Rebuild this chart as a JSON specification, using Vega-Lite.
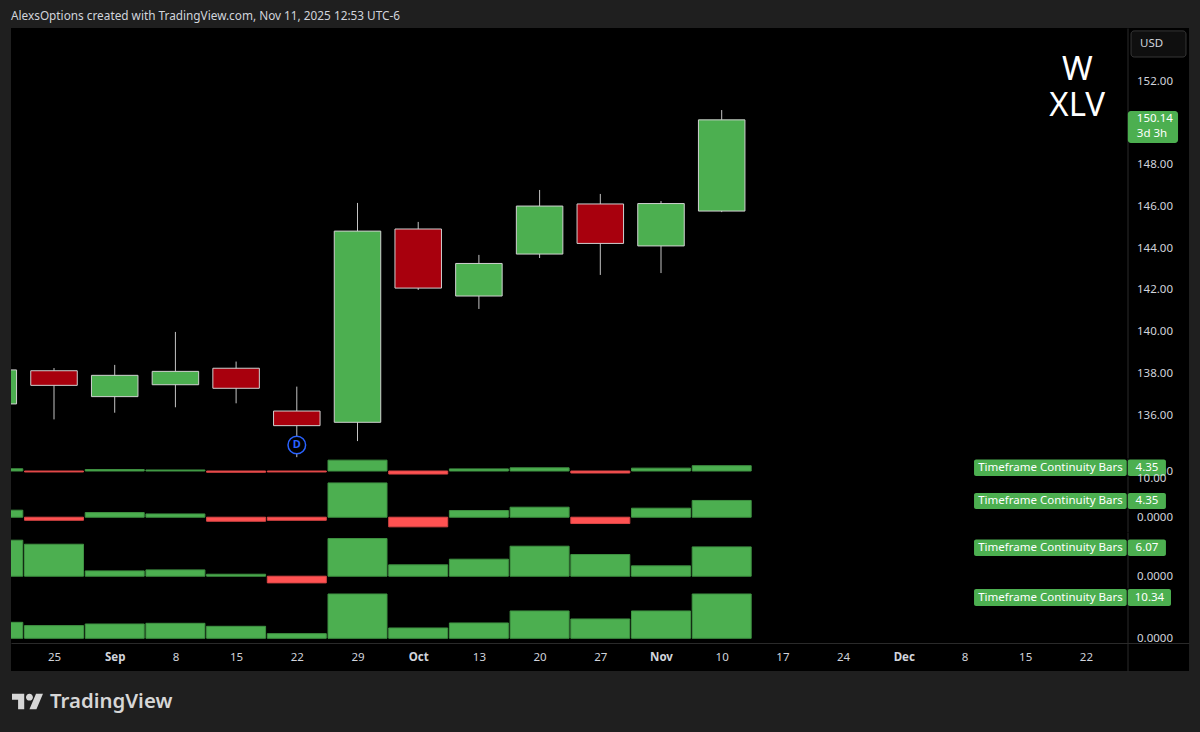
{
"$schema":"https://vega.github.io/schema/vega-lite/v6.json",
"background":"#1f1f1f",
"padding":{"left":11,"right":11,"top":0,"bottom":0},
"bounds":"flush",
"spacing":0,
"config":{"font":"Noto Sans","view":{"fill":"#000000","stroke":null},"concat":{"spacing":0},"scale":{"continuousPadding":0},
"axis":{"grid":false,"ticks":false,"title":null,"labelColor":"#d1d4dc","labelFontSize":11.5,"labelPadding":9,"domainColor":"#2a2a2a","domainWidth":1,"labelOverlap":false,"labelFlush":false}},
"datasets":{
"candles":[
{"date":"2025-08-18","open":136.53,"close":138.16,"high":138.16,"low":136.53},
{"date":"2025-08-25","open":138.12,"close":137.42,"high":138.25,"low":135.79},
{"date":"2025-09-01","open":136.88,"close":137.9,"high":138.4,"low":136.11},
{"date":"2025-09-08","open":137.45,"close":138.09,"high":139.98,"low":136.37},
{"date":"2025-09-15","open":138.24,"close":137.28,"high":138.56,"low":136.56},
{"date":"2025-09-22","open":136.19,"close":135.49,"high":137.36,"low":133.98},
{"date":"2025-09-29","open":135.65,"close":144.81,"high":146.16,"low":134.75},
{"date":"2025-10-06","open":144.91,"close":142.08,"high":145.25,"low":141.99},
{"date":"2025-10-13","open":141.7,"close":143.26,"high":143.67,"low":141.08},
{"date":"2025-10-20","open":143.71,"close":146.01,"high":146.78,"low":143.52},
{"date":"2025-10-27","open":146.11,"close":144.22,"high":146.59,"low":142.71},
{"date":"2025-11-03","open":144.1,"close":146.13,"high":146.25,"low":142.8},
{"date":"2025-11-10","open":145.77,"close":150.14,"high":150.61,"low":145.72}],
"hist":[
{"date":"2025-08-18","a":1.82,"b":7.45,"c":3.73},
{"date":"2025-08-25","a":-0.8,"b":6.62,"c":2.96},
{"date":"2025-09-01","a":1.2,"b":1.1,"c":3.34},
{"date":"2025-09-08","a":0.85,"b":1.31,"c":3.5},
{"date":"2025-09-15","a":-1.05,"b":0.41,"c":2.8},
{"date":"2025-09-22","a":-0.8,"b":-1.38,"c":1.09},
{"date":"2025-09-29","a":8.9,"b":7.8,"c":10.34},
{"date":"2025-10-06","a":-2.5,"b":2.35,"c":2.41},
{"date":"2025-10-13","a":1.73,"b":3.52,"c":3.58},
{"date":"2025-10-20","a":2.6,"b":6.21,"c":6.38},
{"date":"2025-10-27","a":-1.64,"b":4.49,"c":4.51},
{"date":"2025-11-03","a":2.34,"b":2.14,"c":6.38},
{"date":"2025-11-10","a":4.35,"b":6.07,"c":10.34}],
"tags":[
{"pane":1,"x":"2025-12-09T02:24:00Z","x2":"2025-12-26T17:00:00Z","top":9.43,"bottom":-4.1,"tx":"2025-12-17T22:00:00Z","mid":2.46,"label":"Timeframe Continuity Bars"},
{"pane":1,"x":"2025-12-26T20:00:00Z","x2":"2025-12-31T05:30:00Z","top":9.43,"bottom":-4.1,"tx":"2025-12-29T01:00:00Z","mid":2.46,"label":"4.35"},
{"pane":2,"x":"2025-12-09T02:24:00Z","x2":"2025-12-26T17:00:00Z","top":6.29,"bottom":2.13,"tx":"2025-12-17T22:00:00Z","mid":4.2,"label":"Timeframe Continuity Bars"},
{"pane":2,"x":"2025-12-26T20:00:00Z","x2":"2025-12-31T05:30:00Z","top":6.29,"bottom":2.13,"tx":"2025-12-29T01:00:00Z","mid":4.2,"label":"4.35"},
{"pane":3,"x":"2025-12-09T02:24:00Z","x2":"2025-12-26T17:00:00Z","top":7.6,"bottom":4.18,"tx":"2025-12-17T22:00:00Z","mid":5.9,"label":"Timeframe Continuity Bars"},
{"pane":3,"x":"2025-12-26T20:00:00Z","x2":"2025-12-31T05:30:00Z","top":7.6,"bottom":4.18,"tx":"2025-12-29T01:00:00Z","mid":5.9,"label":"6.07"},
{"pane":4,"x":"2025-12-09T02:24:00Z","x2":"2025-12-26T17:00:00Z","top":11.5,"bottom":7.54,"tx":"2025-12-17T22:00:00Z","mid":9.52,"label":"Timeframe Continuity Bars"},
{"pane":4,"x":"2025-12-26T20:00:00Z","x2":"2025-12-31T19:30:00Z","top":11.5,"bottom":7.54,"tx":"2025-12-29T08:00:00Z","mid":9.52,"label":"10.34"}]
},
"vconcat":[
{"width":1178,"height":28,"view":{"fill":null,"stroke":null},
"data":{"values":[{"pos":0,"row":0.43,"label":"AlexsOptions created with TradingView.com, Nov 11, 2025 12:53 UTC-6"}]},
"mark":{"type":"text","align":"left","baseline":"middle","fontSize":11.8,"color":"#d1d4dc"},
"encoding":{"x":{"field":"pos","type":"quantitative","scale":{"domain":[0,1]},"axis":null},"y":{"field":"row","type":"quantitative","scale":{"domain":[0,1]},"axis":null},"text":{"field":"label"}}},
{"width":1178,"height":430,
"layer":[
{"data":{"name":"candles"},"mark":{"type":"rule","color":"#c4c4c4","strokeWidth":1,"clip":true},
"encoding":{"x":{"field":"date","type":"temporal","scale":{"type":"utc","domain":[1755651456000,1767388896000]},"axis":null},
"y":{"field":"low","type":"quantitative","scale":{"domain":[133.94,154.54],"nice":false,"zero":false},"axis":{"orient":"right","offset":-61.5,"values":[136,138,140,142,144,146,148,150,152],"format":".2f"}},"y2":{"field":"high"}}},
{"data":{"name":"candles"},"mark":{"type":"bar","size":46.5,"stroke":"#d0d0d0","strokeWidth":1,"clip":true},
"encoding":{"x":{"field":"date","type":"temporal","scale":{"type":"utc","domain":[1755651456000,1767388896000]},"axis":null},
"y":{"field":"open","type":"quantitative","stack":null,"scale":{"domain":[133.94,154.54],"nice":false,"zero":false}},"y2":{"field":"close"},
"color":{"condition":{"test":"datum.close<datum.open","value":"#a8000d"},"value":"#4caf50"}}},
{"data":{"values":[{"date":"2025-09-22","price":134.56,"label":"D"}]},"mark":{"type":"point","filled":false,"fill":"#000000","fillOpacity":1,"stroke":"#2962ff","strokeWidth":1.5,"size":310,"shape":"circle"},
"encoding":{"x":{"field":"date","type":"temporal","scale":{"type":"utc","domain":[1755651456000,1767388896000]},"axis":null},"y":{"field":"price","type":"quantitative","scale":{"domain":[133.94,154.54],"nice":false,"zero":false}}}},
{"data":{"values":[{"date":"2025-09-22","price":134.56,"label":"D"}]},"mark":{"type":"text","color":"#2962ff","fontSize":11,"fontWeight":"bold"},
"encoding":{"x":{"field":"date","type":"temporal","scale":{"type":"utc","domain":[1755651456000,1767388896000]},"axis":null},"y":{"field":"price","type":"quantitative","scale":{"domain":[133.94,154.54],"nice":false,"zero":false}},"text":{"field":"label"}}},
{"data":{"values":[{"x":"2025-12-26T20:00:00Z","x2":"2026-01-01T15:00:00Z","top":150.56,"bottom":149.03,"fill":"tag"},{"x":"2025-12-27T05:00:00Z","x2":"2026-01-02T13:00:00Z","top":154.4,"bottom":153.15,"fill":"usd"}]},
"mark":{"type":"rect","cornerRadius":3},
"encoding":{"x":{"field":"x","type":"temporal","scale":{"type":"utc","domain":[1755651456000,1767388896000]},"axis":null},"x2":{"field":"x2"},"y":{"field":"top","type":"quantitative","scale":{"domain":[133.94,154.54],"nice":false,"zero":false}},"y2":{"field":"bottom"},
"color":{"condition":{"test":"datum.fill=='tag'","value":"#4caf50"},"value":"#0f0f0f"},
"stroke":{"condition":{"test":"datum.fill=='usd'","value":"#363636"},"value":null}}},
{"data":{"values":[{"x":"2025-12-27T21:00:00Z","price":150.18,"label":"150.14"},{"x":"2025-12-27T21:00:00Z","price":149.46,"label":"3d 3h"},{"x":"2025-12-28T06:00:00Z","price":153.77,"label":"USD"}]},
"mark":{"type":"text","align":"left","baseline":"middle","fontSize":11.5},
"encoding":{"x":{"field":"x","type":"temporal","scale":{"type":"utc","domain":[1755651456000,1767388896000]},"axis":null},"y":{"field":"price","type":"quantitative","scale":{"domain":[133.94,154.54],"nice":false,"zero":false}},"text":{"field":"label"},
"color":{"condition":{"test":"datum.label=='USD'","value":"#d1d4dc"},"value":"#ffffff"}}},
{"data":{"values":[{"x":"2025-12-21T00:00:00Z","price":152.52,"label":"W"},{"x":"2025-12-21T00:00:00Z","price":150.8,"label":"XLV"}]},
"mark":{"type":"text","align":"center","baseline":"middle","fontSize":33,"color":"#ffffff"},
"encoding":{"x":{"field":"x","type":"temporal","scale":{"type":"utc","domain":[1755651456000,1767388896000]},"axis":null},"y":{"field":"price","type":"quantitative","scale":{"domain":[133.94,154.54],"nice":false,"zero":false}},"text":{"field":"label"}}}
]},
{"width":1178,"height":18,
"layer":[
{"data":{"name":"hist"},"mark":{"type":"bar","size":59,"strokeWidth":1,"clip":true},
"encoding":{"x":{"field":"date","type":"temporal","scale":{"type":"utc","domain":[1755651456000,1767388896000]},"axis":null},
"y":{"field":"a","type":"quantitative","stack":null,"scale":{"domain":[-4.1,10.66],"nice":false,"zero":false},"axis":{"orient":"right","offset":-61.5,"values":[0],"format":".4f"}},
"color":{"condition":{"test":"datum.a<0","value":"#ff5252"},"value":"#4caf50"},
"stroke":{"condition":{"test":"datum.a<0","value":"#d94646"},"value":"#3f9142"}}},
{"mark":{"type":"rule","color":"#808080","strokeWidth":2},"encoding":{"y":{"datum":10.66,"type":"quantitative","scale":{"domain":[-4.1,10.66],"nice":false,"zero":false}}}},
{"data":{"name":"tags"},"transform":[{"filter":"datum.pane==1"}],"mark":{"type":"rect","color":"#4caf50","cornerRadius":2},
"encoding":{"x":{"field":"x","type":"temporal","scale":{"type":"utc","domain":[1755651456000,1767388896000]},"axis":null},"x2":{"field":"x2"},"y":{"field":"top","type":"quantitative","scale":{"domain":[-4.1,10.66],"nice":false,"zero":false}},"y2":{"field":"bottom"}}},
{"data":{"name":"tags"},"transform":[{"filter":"datum.pane==1"}],"mark":{"type":"text","color":"#ffffff","fontSize":11.5,"baseline":"middle"},
"encoding":{"x":{"field":"tx","type":"temporal","scale":{"type":"utc","domain":[1755651456000,1767388896000]},"axis":null},"y":{"field":"mid","type":"quantitative","scale":{"domain":[-4.1,10.66],"nice":false,"zero":false}},"text":{"field":"label"}}}
]},
{"width":1178,"height":56,
"layer":[
{"data":{"name":"hist"},"mark":{"type":"bar","size":59,"strokeWidth":1,"clip":true},
"encoding":{"x":{"field":"date","type":"temporal","scale":{"type":"utc","domain":[1755651456000,1767388896000]},"axis":null},
"y":{"field":"a","type":"quantitative","stack":null,"scale":{"domain":[-3.84,10.7],"nice":false,"zero":false},"axis":{"orient":"right","offset":-61.5,"values":[0,10],"labelExpr":"datum.value==0?'0.0000':'10.00'"}},
"color":{"condition":{"test":"datum.a<0","value":"#ff5252"},"value":"#4caf50"},
"stroke":{"condition":{"test":"datum.a<0","value":"#d94646"},"value":"#3f9142"}}},
{"mark":{"type":"rule","color":"#b4b4b4","strokeWidth":1.5},"encoding":{"y":{"datum":10.7,"type":"quantitative","scale":{"domain":[-3.84,10.7],"nice":false,"zero":false}}}},
{"data":{"name":"tags"},"transform":[{"filter":"datum.pane==2"}],"mark":{"type":"rect","color":"#4caf50","cornerRadius":2},
"encoding":{"x":{"field":"x","type":"temporal","scale":{"type":"utc","domain":[1755651456000,1767388896000]},"axis":null},"x2":{"field":"x2"},"y":{"field":"top","type":"quantitative","scale":{"domain":[-3.84,10.7],"nice":false,"zero":false}},"y2":{"field":"bottom"}}},
{"data":{"name":"tags"},"transform":[{"filter":"datum.pane==2"}],"mark":{"type":"text","color":"#ffffff","fontSize":11.5,"baseline":"middle"},
"encoding":{"x":{"field":"tx","type":"temporal","scale":{"type":"utc","domain":[1755651456000,1767388896000]},"axis":null},"y":{"field":"mid","type":"quantitative","scale":{"domain":[-3.84,10.7],"nice":false,"zero":false}},"text":{"field":"label"}}}
]},
{"width":1178,"height":56,
"layer":[
{"data":{"name":"hist"},"mark":{"type":"bar","size":59,"strokeWidth":1,"clip":true},
"encoding":{"x":{"field":"date","type":"temporal","scale":{"type":"utc","domain":[1755651456000,1767388896000]},"axis":null},
"y":{"field":"b","type":"quantitative","stack":null,"scale":{"domain":[-2.44,9.15],"nice":false,"zero":false},"axis":{"orient":"right","offset":-61.5,"values":[0],"format":".4f"}},
"color":{"condition":{"test":"datum.b<0","value":"#ff5252"},"value":"#4caf50"},
"stroke":{"condition":{"test":"datum.b<0","value":"#d94646"},"value":"#3f9142"}}},
{"mark":{"type":"rule","color":"#808080","strokeWidth":2},"encoding":{"y":{"datum":9.15,"type":"quantitative","scale":{"domain":[-2.44,9.15],"nice":false,"zero":false}}}},
{"data":{"name":"tags"},"transform":[{"filter":"datum.pane==3"}],"mark":{"type":"rect","color":"#4caf50","cornerRadius":2},
"encoding":{"x":{"field":"x","type":"temporal","scale":{"type":"utc","domain":[1755651456000,1767388896000]},"axis":null},"x2":{"field":"x2"},"y":{"field":"top","type":"quantitative","scale":{"domain":[-2.44,9.15],"nice":false,"zero":false}},"y2":{"field":"bottom"}}},
{"data":{"name":"tags"},"transform":[{"filter":"datum.pane==3"}],"mark":{"type":"text","color":"#ffffff","fontSize":11.5,"baseline":"middle"},
"encoding":{"x":{"field":"tx","type":"temporal","scale":{"type":"utc","domain":[1755651456000,1767388896000]},"axis":null},"y":{"field":"mid","type":"quantitative","scale":{"domain":[-2.44,9.15],"nice":false,"zero":false}},"text":{"field":"label"}}}
]},
{"width":1178,"height":83,
"layer":[
{"data":{"name":"hist"},"mark":{"type":"bar","size":59,"strokeWidth":1,"clip":true},
"encoding":{"x":{"field":"date","type":"temporal","scale":{"type":"utc","domain":[1755651456000,1767388896000]},
"axis":{"orient":"bottom","offset":-28,"values":[1756080000000,1756684800000,1757289600000,1757894400000,1758499200000,1759104000000,1759708800000,1760313600000,1760918400000,1761523200000,1762128000000,1762732800000,1763337600000,1763942400000,1764547200000,1765152000000,1765756800000,1766361600000],"labelExpr":"utcdate(datum.value)<=7?utcFormat(datum.value,'%b'):utcdate(datum.value)","labelFontWeight":{"condition":{"test":"utcdate(datum.value)<=7","value":700},"value":400},"labelPadding":8}},
"y":{"field":"c","type":"quantitative","stack":null,"scale":{"domain":[-7.63,11.74],"nice":false,"zero":false},"axis":{"orient":"right","offset":-61.5,"values":[0],"format":".4f"}},
"color":{"condition":{"test":"datum.c<0","value":"#ff5252"},"value":"#4caf50"},
"stroke":{"condition":{"test":"datum.c<0","value":"#d94646"},"value":"#3f9142"}}},
{"mark":{"type":"rule","color":"#808080","strokeWidth":2},"encoding":{"y":{"datum":11.74,"type":"quantitative","scale":{"domain":[-7.63,11.74],"nice":false,"zero":false}}}},
{"data":{"name":"tags"},"transform":[{"filter":"datum.pane==4"}],"mark":{"type":"rect","color":"#4caf50","cornerRadius":2},
"encoding":{"x":{"field":"x","type":"temporal","scale":{"type":"utc","domain":[1755651456000,1767388896000]}},"x2":{"field":"x2"},"y":{"field":"top","type":"quantitative","scale":{"domain":[-7.63,11.74],"nice":false,"zero":false}},"y2":{"field":"bottom"}}},
{"data":{"name":"tags"},"transform":[{"filter":"datum.pane==4"}],"mark":{"type":"text","color":"#ffffff","fontSize":11.5,"baseline":"middle"},
"encoding":{"x":{"field":"tx","type":"temporal","scale":{"type":"utc","domain":[1755651456000,1767388896000]}},"y":{"field":"mid","type":"quantitative","scale":{"domain":[-7.63,11.74],"nice":false,"zero":false}},"text":{"field":"label"}}}
]},
{"width":1178,"height":61,"view":{"fill":null,"stroke":null},
"layer":[
{"data":{"values":[{"pos":0.014,"row":0.5}]},"mark":{"type":"point","filled":true,"opacity":1,"color":"#d6d6d6","size":961,"shape":"M-0.211 0.507H-0.606V-0.113H-1V-0.507H-0.211ZM0.577 0.507H0.127L0.549 -0.507H1ZM-0.098 -0.282a0.225 0.225 0 1 0 0.45 0a0.225 0.225 0 1 0 -0.45 0Z"},
"encoding":{"x":{"field":"pos","type":"quantitative","scale":{"domain":[0,1]},"axis":null},"y":{"field":"row","type":"quantitative","scale":{"domain":[0,1]},"axis":null}}},
{"data":{"values":[{"pos":0.0331,"row":0.5,"label":"TradingView"}]},"mark":{"type":"text","align":"left","baseline":"middle","fontSize":20.4,"fontWeight":600,"color":"#d6d6d6"},
"encoding":{"x":{"field":"pos","type":"quantitative","scale":{"domain":[0,1]},"axis":null},"y":{"field":"row","type":"quantitative","scale":{"domain":[0,1]},"axis":null},"text":{"field":"label"}}}
]}
]
}
